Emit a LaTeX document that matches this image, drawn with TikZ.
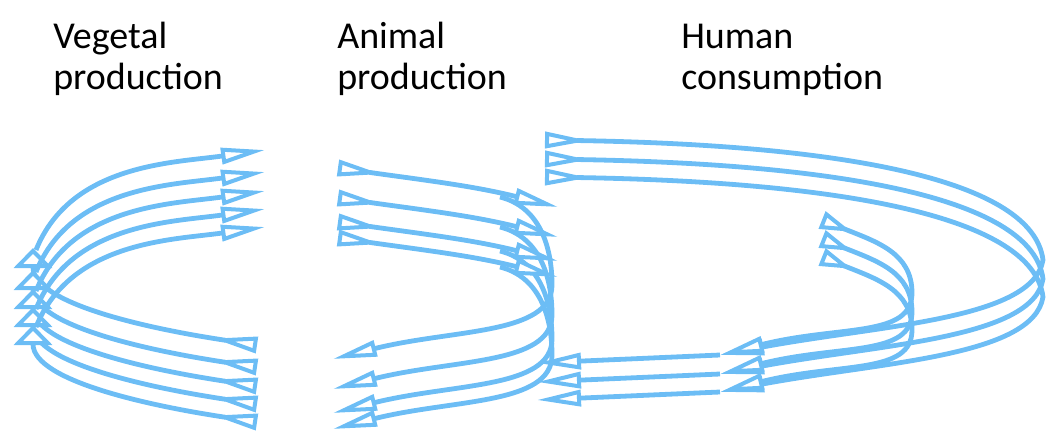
\documentclass[tikz,border=0pt]{standalone}
\usepackage{fontspec}
\setmainfont{Carlito}
\usetikzlibrary{arrows.meta}
\definecolor{flowblue}{RGB}{108,189,245}
\tikzset{
    hd/.tip={Triangle[length=11mm,width=4mm,line width=1mm,fill=white]},
    tl/.tip={Triangle[reversed,length=11mm,width=4mm,line width=1mm,fill=white]},
    tls/.tip={Triangle[reversed,length=8mm,width=4.5mm,line width=1mm,fill=white]},
    uph/.tip={Triangle[length=5mm,width=9.5mm,line width=1mm,fill=white]},
    flow/.style={draw=flowblue,line width=1.2mm},
    heading/.style={anchor=base west,align=left,inner sep=0pt,
        font=\fontsize{27}{28.5}\selectfont}
}
\begin{document}
\begin{tikzpicture}[x=0.025cm,y=0.025cm]
    \useasboundingbox (0,0) rectangle (1047,430);
    % labels
        \node[heading] (veg) at (53,341) {Vegetal\\production};
        \node[heading] (ani) at (337,341) {Animal\\production};
        \node[heading] (hum) at (681,341) {Human\\consumption};
    % vegetal production
        \foreach \d [count=\i] in {0,-22,-41,-59,-77}{
            \coordinate (vb\i) at (257,85+\d);
            \coordinate (vl\i) at (33,182+\d);
            \coordinate (vs\i) at (36,180+\d);
            \coordinate (vt\i) at (265,280+\d);
            \draw[flow,tl-uph] (vb\i) .. controls +(-100,15) and +(0,-57) .. (vl\i);
            \draw[flow,-hd] (vs\i) to[out=68,in=188,looseness=0.95] (vt\i);
        }
    % animal production
        \foreach \d [count=\i] in {0,-30,-54,-70}{
            \coordinate (at\i) at (338,262+\d);
            \coordinate (am\i) at (558,223+\d);
            \coordinate (as\i) at (500,233+\d);
            \coordinate (ar\i) at (552,145+\d);
            \coordinate (ab\i) at (333,71+\d);
            \draw[flow,-hd] (as\i) to[out=-14,in=90] (ar\i)
                .. controls +(0,-50) and +(120,30) .. (ab\i);
            \draw[flow,tl-hd] (at\i) to[out=-8,in=166] (am\i);
        }
    % human consumption
        \foreach \d [count=\i] in {0,-19,-37}{
            \coordinate (ht\i) at (545,290+\d);
            \coordinate (hr\i) at (1043,170+\d);
            \coordinate (hi\i) at (822,210+\d);
            \coordinate (hq\i) at (912,137+\d);
            \coordinate (hm\i) at (720,75+\d);
            \coordinate (hb\i) at (537,67+\d);
            \draw[flow,tl-hd] (ht\i) .. controls +(300,-5) and +(-10,80) .. (hr\i)
                .. controls +(-10,-60) and +(160,30) .. (hm\i);
            \draw[flow,tls-hd] (hi\i) .. controls +(55,-22) and +(0,40) .. (hq\i)
                .. controls +(0,-45) and +(120,30) .. (hm\i);
            \draw[flow,-hd] (hm\i) -- (hb\i);
        }
\end{tikzpicture}
\end{document}
